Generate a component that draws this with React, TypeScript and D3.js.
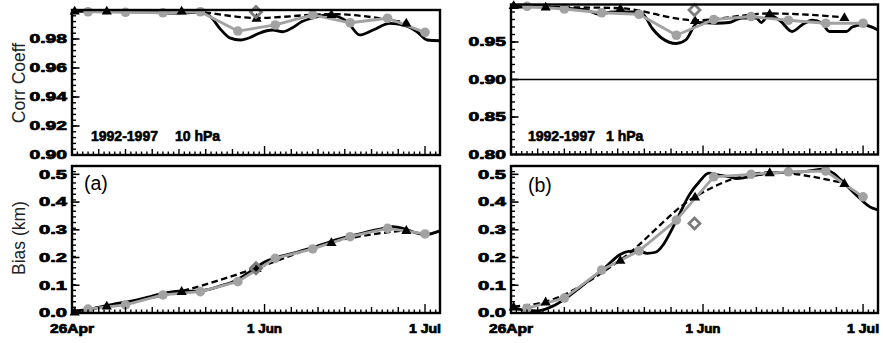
import React from "react";
import * as d3 from "d3";

// ---------- data ----------
const weeklyDays = [3, 10, 17, 24, 31, 38, 45, 52, 59, 66];
const triDays = [0.5, 6.5, 20.5, 34.5, 48.5, 62.5];
const diamondDay = 34.4;

// (a) 10 hPa correlation
const corr10GrayVals = [0.9988, 0.9984, 0.9981, 0.9988, 0.9855, 0.9897, 0.9966, 0.9912, 0.9943, 0.9846];
const corr10TriVals = [0.9995, 0.9995, 0.9995, 0.9945, 0.9972, 0.9912];
const corr10Diamond = 0.9986;
const corr10BlackDays = [0, 3, 6, 9, 12, 15, 18, 21, 24, 26, 27.7, 29.5, 31.5, 33.3, 35, 37.5, 39.4, 41.3, 43, 45, 48, 50, 51.5, 53.8, 56.3, 59.4, 61.9, 64.5, 66.4, 68.8];
const corr10BlackVals = [0.9992, 0.999, 0.9993, 0.9991, 0.9988, 0.9984, 0.9978, 0.998, 0.9985, 0.995, 0.987, 0.9808, 0.9793, 0.981, 0.984, 0.9862, 0.985, 0.988, 0.992, 0.9945, 0.9968, 0.995, 0.9918, 0.9828, 0.9862, 0.9908, 0.9897, 0.985, 0.9793, 0.9788];

// (b) 1 hPa correlation
const corr1GrayVals = [0.9976, 0.994, 0.989, 0.987, 0.959, 0.98, 0.984, 0.979, 0.975, 0.975];
const corr1TriVals = [0.999, 0.997, 0.995, 0.979, 0.988, 0.983];
const corr1Diamond = 0.9927;
const corr1BlackDays = [0, 3, 6, 8, 10.3, 14, 16.5, 19, 22.7, 24.6, 26.5, 28.3, 31, 32.8, 35, 38.5, 40.9, 43.3, 46, 46.9, 48.4, 50.5, 52.7, 54.6, 56.5, 58.3, 59.7, 62.9, 64, 65.9, 68.8];
const corr1BlackVals = [0.996, 0.997, 0.997, 0.996, 0.995, 0.993, 0.987, 0.99, 0.99, 0.988, 0.968, 0.955, 0.948, 0.953, 0.976, 0.975, 0.976, 0.982, 0.982, 0.976, 0.986, 0.978, 0.964, 0.973, 0.979, 0.975, 0.964, 0.964, 0.97, 0.973, 0.966];

// (a) 10 hPa bias
const bias10GrayVals = [0.014, 0.029, 0.065, 0.077, 0.113, 0.197, 0.231, 0.275, 0.305, 0.285];
const bias10TriVals = [0.005, 0.026, 0.079, 0.162, 0.255, 0.299];
const bias10Diamond = 0.161;
const bias10BlackDays = [0, 2, 4, 6, 8, 10, 12, 14, 16, 18, 20, 22, 24, 26, 28, 30, 32, 34, 36, 38, 40, 42, 44, 46, 48, 50, 52, 54, 56, 58, 60, 62, 64, 66, 68.8];
const bias10BlackVals = [0.005, 0.01, 0.016, 0.025, 0.033, 0.039, 0.046, 0.056, 0.066, 0.074, 0.079, 0.079, 0.08, 0.087, 0.099, 0.112, 0.133, 0.158, 0.184, 0.199, 0.209, 0.219, 0.23, 0.242, 0.255, 0.267, 0.277, 0.286, 0.296, 0.304, 0.311, 0.304, 0.291, 0.283, 0.296];

// (b) 1 hPa bias
const bias1GrayVals = [0.017, 0.054, 0.155, 0.224, 0.335, 0.491, 0.5, 0.509, 0.512, 0.419];
const bias1TriVals = [0.023, 0.041, 0.191, 0.419, 0.507, 0.468];
const bias1Diamond = 0.323;
const bias1BlackDays = [0, 2.5, 5, 7.5, 10.3, 12.8, 15.9, 18, 20.3, 22, 24, 25.5, 27.1, 28.5, 29.6, 31.5, 33.4, 35.3, 37.1, 39, 40.9, 42.4, 45.5, 48.7, 52, 55, 58.7, 60.5, 62.1, 65, 67.5, 68.8];
const bias1BlackVals = [0.022, 0.01, 0.008, 0.022, 0.053, 0.09, 0.137, 0.17, 0.209, 0.222, 0.224, 0.215, 0.219, 0.245, 0.281, 0.353, 0.425, 0.473, 0.504, 0.497, 0.491, 0.485, 0.495, 0.505, 0.507, 0.51, 0.519, 0.503, 0.475, 0.42, 0.38, 0.372];

// axis labels
const xLabelDays = [0, 36, 66];
const xLabels = ["26Apr", "1 Jun", "1 Jul"];
const xLabelWidths = [44, 35, 32];
const corr10Ticks = [0.9, 0.92, 0.94, 0.96, 0.98];
const corr1Ticks = [0.8, 0.85, 0.9, 0.95];
const biasTicks = [0, 0.1, 0.2, 0.3, 0.4, 0.5];
const dayMax = 68.8;

const GRAY = "#a2a2a2";
const DIAMOND = "#7c7c7c";
const LABEL_FONT = "'Liberation Sans', Arial, Helvetica, sans-serif";

type PanelProps = {
  x0: number; x1: number; yTop: number; yBot: number;
  domain: [number, number];
  majors: number[]; minorStep: number; fmt: (v: number) => string;
  blackDays: number[]; blackVals: number[];
  grayVals: number[]; triVals: number[]; diamond: number;
  showXLabels: boolean; hline?: number;
  note?: [string, string, number, number];
  tag?: [string, number, number];
  id: string;
};

function Panel(p: PanelProps) {
  const x = d3.scaleLinear().domain([0, dayMax]).range([p.x0, p.x1]);
  const y = d3.scaleLinear().domain(p.domain).range([p.yBot, p.yTop]);
  const line = d3.line<[number, number]>().x(d => x(d[0])).y(d => y(d[1]));
  const smooth = d3.line<[number, number]>().x(d => x(d[0])).y(d => y(d[1])).curve(d3.curveMonotoneX);
  const black: [number, number][] = p.blackDays.map((d, i) => [d, p.blackVals[i]]);
  const gray: [number, number][] = weeklyDays.map((d, i) => [d, p.grayVals[i]]);
  const tri: [number, number][] = triDays.map((d, i) => [d, p.triVals[i]]);

  const xTicks: { d: number; len: number }[] = [];
  for (let d = 1; d <= Math.floor(dayMax); d++) {
    const dt = new Date(2000, 3, 26 + d);
    const dom = dt.getDate();
    let len = 3.5;
    if ([1, 6, 11, 16, 21, 26].includes(dom)) len = 6;
    if (xLabelDays.includes(d)) len = 9;
    xTicks.push({ d, len });
  }
  const nMinor = Math.round((p.domain[1] - p.domain[0]) / p.minorStep);
  const yMinor = d3.range(1, nMinor).map(i => p.domain[0] + i * p.minorStep);

  const tw = 8.5;
  const triPath = (cx: number, cy: number) =>
    `M${cx},${cy - tw * 0.6}L${cx + tw * 0.6},${cy + tw * 0.45}L${cx - tw * 0.6},${cy + tw * 0.45}Z`;
  const dr = 5.5;
  const dx = x(diamondDay), dy = y(p.diamond);

  return (
    <g>
      <defs>
        <clipPath id={p.id}>
          <rect x={p.x0} y={p.yTop} width={p.x1 - p.x0} height={p.yBot - p.yTop} />
        </clipPath>
      </defs>
      {p.hline !== undefined && (
        <line x1={p.x0} x2={p.x1} y1={y(p.hline)} y2={y(p.hline)} stroke="#000" strokeWidth={1.6} />
      )}
      <g clipPath={`url(#${p.id})`}>
        <path d={smooth(black) || ""} fill="none" stroke="#000" strokeWidth={2.8} strokeLinejoin="round" />
      </g>
      <path d={smooth(tri) || ""} fill="none" stroke="#000" strokeWidth={2.3} strokeDasharray="6.5,3.5" />
      <path d={line(gray) || ""} fill="none" stroke={GRAY} strokeWidth={2.8} strokeLinejoin="round" />
      {gray.map((g, i) => (
        <circle key={"c" + i} cx={x(g[0])} cy={y(g[1])} r={4.8} fill={GRAY} />
      ))}
      {tri.map((t, i) => (
        <path key={"t" + i} d={triPath(x(t[0]), y(t[1]))} fill="#000" />
      ))}
      <path d={`M${dx},${dy - dr}L${dx + dr},${dy}L${dx},${dy + dr}L${dx - dr},${dy}Z`} fill="none" stroke={DIAMOND} strokeWidth={2.8} />

      <rect x={p.x0} y={p.yTop} width={p.x1 - p.x0} height={p.yBot - p.yTop} fill="none" stroke="#000" strokeWidth={2.4} />
      {xTicks.map(t => (
        <line key={"xt" + t.d} x1={x(t.d)} x2={x(t.d)} y1={p.yBot} y2={p.yBot - t.len} stroke="#000" strokeWidth={1.4} />
      ))}
      {yMinor.map((v, i) => (
        <line key={"ym" + i} x1={p.x0} x2={p.x0 + 4} y1={y(v)} y2={y(v)} stroke="#000" strokeWidth={1.4} />
      ))}
      {p.majors.map((v, i) => (
        <g key={"yM" + i}>
          <line x1={p.x0} x2={p.x0 + 7.5} y1={y(v)} y2={y(v)} stroke="#000" strokeWidth={1.6} />
          <text x={p.x0 - 5} y={y(v) + 4.3} textAnchor="end" fontSize={12} fontWeight="bold"
            stroke="#000" strokeWidth={0.7}
            fontFamily={LABEL_FONT} textLength={p.fmt(v).length * 9.5 - 0.5} lengthAdjust="spacingAndGlyphs">
            {p.fmt(v)}
          </text>
        </g>
      ))}
      {p.showXLabels && xLabelDays.map((d, i) => (
        <text key={"xl" + i} x={x(d)} y={333} textAnchor="middle" fontSize={12} fontWeight="bold"
          stroke="#000" strokeWidth={0.7}
          fontFamily={LABEL_FONT} textLength={xLabelWidths[i]} lengthAdjust="spacingAndGlyphs">
          {xLabels[i]}
        </text>
      ))}
      {p.note && (
        <g fontSize={14} fontWeight="bold" fontFamily={LABEL_FONT} stroke="#000" strokeWidth={0.6}>
          <text x={p.note[2]} y={141}>{p.note[0]}</text>
          <text x={p.note[3]} y={141}>{p.note[1]}</text>
        </g>
      )}
      {p.tag && (
        <text x={p.tag[1]} y={p.tag[2]} fontSize={19.5} fontFamily={LABEL_FONT}>{p.tag[0]}</text>
      )}
    </g>
  );
}

export default function App() {
  const f2 = d3.format(".2f");
  const f1 = d3.format(".1f");
  return (
    <svg width={883} height={343} viewBox="0 0 883 343"
      style={{ position: "absolute", left: 0, top: 0, background: "#fff" }}>
      <rect x={0} y={0} width={883} height={343} fill="#fff" />
      <Panel id="cpa" x0={72} x1={440} yTop={10} yBot={155} domain={[0.9, 1.0]}
        majors={corr10Ticks} minorStep={0.004} fmt={f2}
        blackDays={corr10BlackDays} blackVals={corr10BlackVals}
        grayVals={corr10GrayVals} triVals={corr10TriVals} diamond={corr10Diamond}
        showXLabels={false} note={["1992-1997", "10 hPa", 91, 175]} />
      <Panel id="cpb" x0={511} x1={878} yTop={4.5} yBot={154.5} domain={[0.8, 1.0]}
        majors={corr1Ticks} minorStep={0.01} fmt={f2}
        blackDays={corr1BlackDays} blackVals={corr1BlackVals}
        grayVals={corr1GrayVals} triVals={corr1TriVals} diamond={corr1Diamond}
        showXLabels={false} hline={0.9} note={["1992-1997", "1 hPa", 528, 606]} />
      <Panel id="bpa" x0={72} x1={440} yTop={166} yBot={313} domain={[0, 0.53]}
        majors={biasTicks} minorStep={0.02 * 0.53 / 0.52} fmt={f1}
        blackDays={bias10BlackDays} blackVals={bias10BlackVals}
        grayVals={bias10GrayVals} triVals={bias10TriVals} diamond={bias10Diamond}
        showXLabels={true} tag={["(a)", 84, 190]} />
      <Panel id="bpb" x0={511} x1={878} yTop={166} yBot={313} domain={[0, 0.53]}
        majors={biasTicks} minorStep={0.02 * 0.53 / 0.52} fmt={f1}
        blackDays={bias1BlackDays} blackVals={bias1BlackVals}
        grayVals={bias1GrayVals} triVals={bias1TriVals} diamond={bias1Diamond}
        showXLabels={true} tag={["(b)", 528, 192]} />
      <text transform="translate(25,83) rotate(-90)" textAnchor="middle" fontSize={17.5}
        fontFamily={LABEL_FONT} fill="#222">Corr Coeff</text>
      <text transform="translate(25,238) rotate(-90)" textAnchor="middle" fontSize={17.5}
        fontFamily={LABEL_FONT} fill="#222">Bias (km)</text>
    </svg>
  );
}
